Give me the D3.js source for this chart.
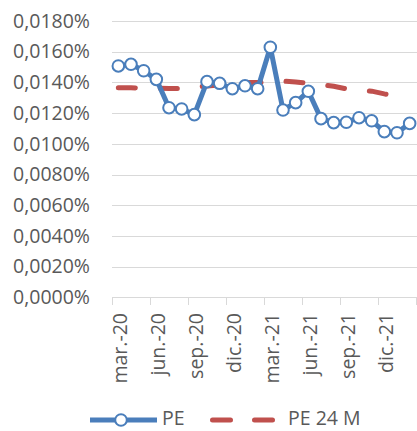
<!DOCTYPE html>
<html>
<head>
<meta charset="utf-8">
<script src="https://cdn.jsdelivr.net/npm/d3@7"></script>
<style>
  html, body { margin: 0; padding: 0; background: #fff; }
  svg { display: block; font-family: "Open Sans", sans-serif; }
</style>
</head>
<body>
<svg id="chart" width="417" height="431"></svg>
<script>
var months = ['mar.-20', 'abr.-20', 'may.-20', 'jun.-20', 'jul.-20', 'ago.-20',
  'sep.-20', 'oct.-20', 'nov.-20', 'dic.-20', 'ene.-21', 'feb.-21',
  'mar.-21', 'abr.-21', 'may.-21', 'jun.-21', 'jul.-21', 'ago.-21',
  'sep.-21', 'oct.-21', 'nov.-21', 'dic.-21', 'ene.-22', 'feb.-22'];

// values in percent
var pe = [0.01507, 0.01518, 0.01476, 0.01420, 0.01235, 0.01227,
  0.01190, 0.01405, 0.01394, 0.01359, 0.01378, 0.01359,
  0.01629, 0.01220, 0.01268, 0.01342, 0.01164, 0.01138,
  0.01140, 0.01170, 0.01150, 0.01079, 0.01072, 0.01133];

var pe24 = [0.01365, 0.01365, 0.01363, 0.01362, 0.01360, 0.01360,
  0.01368, 0.01376, 0.01383, 0.01390, 0.01400, 0.01400,
  0.01402, 0.01408, 0.01403, 0.01393, 0.01385, 0.01375,
  0.01358, 0.01352, 0.01343, 0.01325, 0.01310, 0.01290];

var yTicks = [0, 0.002, 0.004, 0.006, 0.008, 0.010, 0.012, 0.014, 0.016, 0.018];
var xTickLabels = ['mar.-20', 'jun.-20', 'sep.-20', 'dic.-20', 'mar.-21', 'jun.-21', 'sep.-21', 'dic.-21'];

var blue = '#4a7ebb';
var red = '#c0504d';
var grey = '#d9d9d9';
var textColor = '#595959';

var svg = d3.select('#chart');

var x = d3.scaleBand()
  .domain(months)
  .range([112, 416]);

var y = d3.scaleLinear()
  .domain([0, 0.018])
  .range([297.3, 21]);

var es = d3.formatLocale({ decimal: ',', thousands: '.', grouping: [3], currency: ['', '€'] });
var fmt = es.format('.4f');

var cx = function (d, i) { return x(months[i]) + x.bandwidth() / 2; };

// Gridlines
svg.append('g')
  .selectAll('line')
  .data(yTicks)
  .enter().append('line')
  .attr('x1', 112)
  .attr('x2', 417)
  .attr('y1', function (d) { return Math.round(y(d)) + 0.5; })
  .attr('y2', function (d) { return Math.round(y(d)) + 0.5; })
  .attr('stroke', grey)
  .attr('stroke-width', 1);

// Y axis labels
var yAxis = d3.axisLeft(y)
  .tickValues(yTicks)
  .tickSize(0)
  .tickPadding(0)
  .tickFormat(function (d) { return fmt(d) + '%'; });

var gy = svg.append('g')
  .attr('transform', 'translate(90,0)')
  .call(yAxis);
gy.select('.domain').remove();
gy.selectAll('text')
  .attr('fill', textColor)
  .style('font-size', '19.5px')
  .style('font-family', '"Open Sans", sans-serif');

// X axis
var xAxis = d3.axisBottom(x)
  .tickValues(xTickLabels)
  .tickSize(0)
  .tickPadding(0);

var gx = svg.append('g')
  .attr('transform', 'translate(0,298)')
  .call(xAxis);
gx.select('.domain').remove();
gx.selectAll('.tick line').remove();
gx.selectAll('text')
  .attr('fill', textColor)
  .style('font-size', '19.5px')
  .style('font-family', '"Open Sans", sans-serif')
  .attr('text-anchor', 'end')
  .attr('transform', 'translate(2,15) rotate(-90)')
  .attr('x', 0)
  .attr('y', 0)
  .attr('dy', '0.35em');

// Tick marks at band edges, every 3 months
var tickEdges = d3.range(0, months.length + 1, 3).map(function (i) {
  return i < months.length ? x(months[i]) : x.range()[1];
});
svg.append('g')
  .selectAll('line')
  .data(tickEdges)
  .enter().append('line')
  .attr('x1', function (d) { return Math.round(d) + 0.5; })
  .attr('x2', function (d) { return Math.round(d) + 0.5; })
  .attr('y1', 298)
  .attr('y2', 305)
  .attr('stroke', grey)
  .attr('stroke-width', 1);

// PE 24 M dashed line
var line = d3.line()
  .x(cx)
  .y(function (d) { return y(d); });

svg.append('path')
  .datum(pe24)
  .attr('d', line)
  .attr('fill', 'none')
  .attr('stroke', red)
  .attr('stroke-width', 5)
  .attr('stroke-linecap', 'round')
  .attr('stroke-dasharray', '17 25');

// PE line
svg.append('path')
  .datum(pe)
  .attr('d', line)
  .attr('fill', 'none')
  .attr('stroke', blue)
  .attr('stroke-width', 5)
  .attr('stroke-linejoin', 'round');

svg.append('g')
  .selectAll('circle')
  .data(pe)
  .enter().append('circle')
  .attr('cx', cx)
  .attr('cy', function (d) { return y(d); })
  .attr('r', 5.8)
  .attr('fill', '#fff')
  .attr('stroke', blue)
  .attr('stroke-width', 2);

// Legend
var legendY = 420;
var legend = svg.append('g');
legend.append('line')
  .attr('x1', 90).attr('x2', 157)
  .attr('y1', legendY).attr('y2', legendY)
  .attr('stroke', blue)
  .attr('stroke-width', 5);
legend.append('circle')
  .attr('cx', 121).attr('cy', legendY)
  .attr('r', 5.8)
  .attr('fill', '#fff')
  .attr('stroke', blue)
  .attr('stroke-width', 2);
legend.append('text')
  .attr('x', 162).attr('y', legendY + 5)
  .attr('fill', textColor)
  .style('font-size', '19.5px')
  .text('PE');
legend.append('line')
  .attr('x1', 212.5).attr('x2', 272.5)
  .attr('y1', legendY).attr('y2', legendY)
  .attr('stroke', red)
  .attr('stroke-width', 5)
  .attr('stroke-linecap', 'round')
  .attr('stroke-dasharray', '18 24');
legend.append('text')
  .attr('x', 288).attr('y', legendY + 5)
  .attr('fill', textColor)
  .style('font-size', '19.5px')
  .text('PE 24 M');
</script>
</body>
</html>
